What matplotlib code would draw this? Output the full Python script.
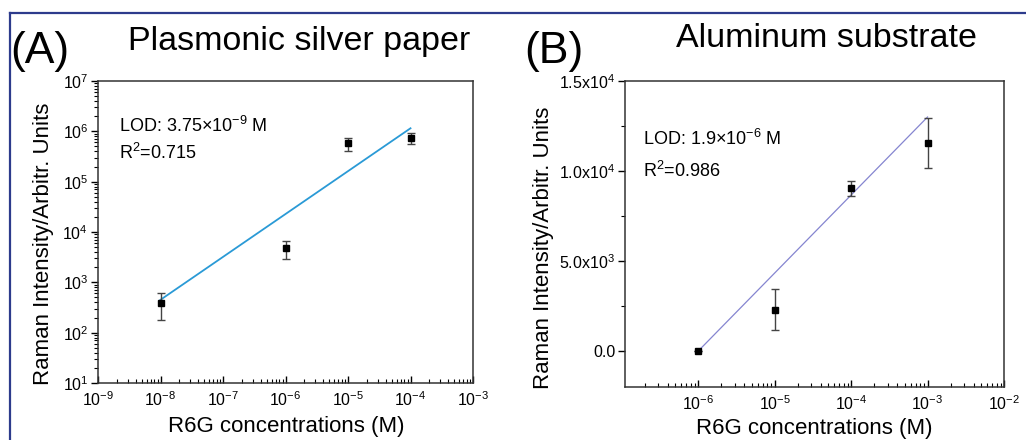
import matplotlib
matplotlib.use("Agg")
import matplotlib.pyplot as plt
from matplotlib.lines import Line2D
from matplotlib.ticker import LogLocator, LogFormatterSciNotation, MultipleLocator, NullFormatter

plt.rcParams["font.family"] = ["Liberation Sans", "DejaVu Sans"]
plt.rcParams["mathtext.fontset"] = "custom"
plt.rcParams["mathtext.rm"] = "Liberation Sans"
plt.rcParams["mathtext.it"] = "Liberation Sans:italic"
plt.rcParams["mathtext.default"] = "regular"
plt.rcParams["axes.unicode_minus"] = False

# (A) plasmonic silver paper, log-log
conc_a = [1e-8, 1e-6, 1e-5, 1e-4]
inten_a = [390, 4800, 5.8e5, 7.3e5]
err_lo_a = [215, 1900, 1.7e5, 1.8e5]
err_hi_a = [225, 1950, 1.6e5, 2.1e5]
fit_x_a = [1e-8, 1e-4]
fit_y_a = [450, 1.15e6]

# (B) aluminum substrate, log-linear
conc_b = [1e-6, 1e-5, 1e-4, 1e-3]
inten_b = [0, 2300, 9030, 11550]
err_b = [0, 1150, 420, 1400]
fit_x_b = [1e-6, 1e-3]
fit_y_b = [0, 13000]
yticks_b = [0, 5000, 10000, 15000]
ytick_labels_b = ["0.0", "5.0x10$^{3}$", "1.0x10$^{4}$", "1.5x10$^{4}$"]

ylabel = "Raman Intensity/Arbitr. Units"
xlabel = "R6G concentrations (M)"

fig = plt.figure(figsize=(10.26, 4.40), dpi=100)
W, H = 1026, 440


def px_axes(l, t, r, b):
    return fig.add_axes([l / W, 1 - b / H, (r - l) / W, (b - t) / H])


def style(ax):
    for s in ax.spines.values():
        s.set_color("#333333")
        s.set_linewidth(1.1)
    ax.tick_params(axis="x", which="both", direction="in", top=False, labelsize=11.5, pad=5)
    ax.tick_params(axis="y", which="both", direction="out", right=False, labelsize=11.5, pad=2)
    ax.tick_params(which="major", length=5, width=1)
    ax.tick_params(which="minor", length=3, width=0.8)


ax_a = px_axes(98, 81, 473, 383)
ax_a.set_xscale("log")
ax_a.set_yscale("log")
ax_a.set_xlim(1e-9, 1e-3)
ax_a.set_ylim(1e1, 1e7)
ax_a.plot(fit_x_a, fit_y_a, color="#2a9ad6", lw=1.3, zorder=2)
ax_a.errorbar(conc_a, inten_a, yerr=[err_lo_a, err_hi_a], fmt="s", color="black",
              ms=4.5, ecolor="#444444", elinewidth=1, capsize=3, capthick=1, zorder=3)
for axis in (ax_a.xaxis, ax_a.yaxis):
    axis.set_major_locator(LogLocator(base=10, numticks=20))
    axis.set_minor_locator(LogLocator(base=10, subs=range(2, 10), numticks=20))
    axis.set_major_formatter(LogFormatterSciNotation())
    axis.set_minor_formatter(NullFormatter())
style(ax_a)
ax_a.text(0.056, 0.831, "LOD: 3.75\u00d710$^{-9}$ M", transform=ax_a.transAxes, fontsize=13, va="baseline")
ax_a.text(0.056, 0.742, "R$^{2}$=0.715", transform=ax_a.transAxes, fontsize=13, va="baseline")
ax_a.text(-0.145, 0.46, ylabel, transform=ax_a.transAxes, rotation=90, ha="center", va="center", fontsize=16)
ax_a.text(0.503, -0.145, xlabel, transform=ax_a.transAxes, ha="center", va="center", fontsize=16)

ax_b = px_axes(625, 81, 1004, 387)
ax_b.set_xscale("log")
ax_b.set_xlim(1.1e-7, 1e-2)
ax_b.set_ylim(-2000, 15000)
ax_b.plot(fit_x_b, fit_y_b, color="#8585d0", lw=0.9, zorder=2)
ax_b.errorbar(conc_b, inten_b, yerr=err_b, fmt="s", color="black",
              ms=4.5, ecolor="#444444", elinewidth=1, capsize=3, capthick=1, zorder=3)
ax_b.xaxis.set_major_locator(LogLocator(base=10, numticks=20))
ax_b.xaxis.set_minor_locator(LogLocator(base=10, subs=range(2, 10), numticks=20))
ax_b.xaxis.set_major_formatter(LogFormatterSciNotation())
ax_b.xaxis.set_minor_formatter(NullFormatter())
ax_b.set_yticks(yticks_b)
ax_b.set_yticklabels(ytick_labels_b)
ax_b.yaxis.set_minor_locator(MultipleLocator(2500))
style(ax_b)
ax_b.text(0.0475, 0.791, "LOD: 1.9\u00d710$^{-6}$ M", transform=ax_b.transAxes, fontsize=13, va="baseline")
ax_b.text(0.0475, 0.686, "R$^{2}$=0.986", transform=ax_b.transAxes, fontsize=13, va="baseline")
ax_b.text(-0.216, 0.456, ylabel, transform=ax_b.transAxes, rotation=90, ha="center", va="center", fontsize=16)
ax_b.text(0.5, -0.134, xlabel, transform=ax_b.transAxes, ha="center", va="center", fontsize=16)

# panel titles and letters
fig.text(299 / W, 1 - 50 / H, "Plasmonic silver paper", ha="center", va="baseline", fontsize=24.5)
fig.text(827 / W, 1 - 47 / H, "Aluminum substrate", ha="center", va="baseline", fontsize=24.5)
fig.text(10 / W, 1 - 63 / H, "(A)", ha="left", va="baseline", fontsize=32)
fig.text(524 / W, 1 - 63 / H, "(B)", ha="left", va="baseline", fontsize=32)

# blue frame (top and left edges)
frame_col = "#2d3b8c"
fig.add_artist(Line2D([9.5 / W, 1], [1 - 13.5 / H, 1 - 13.5 / H], color=frame_col, lw=1.6))
fig.add_artist(Line2D([9.5 / W, 9.5 / W], [0, 1 - 13.5 / H], color=frame_col, lw=1.6))

fig.savefig("out.png", dpi=100)
